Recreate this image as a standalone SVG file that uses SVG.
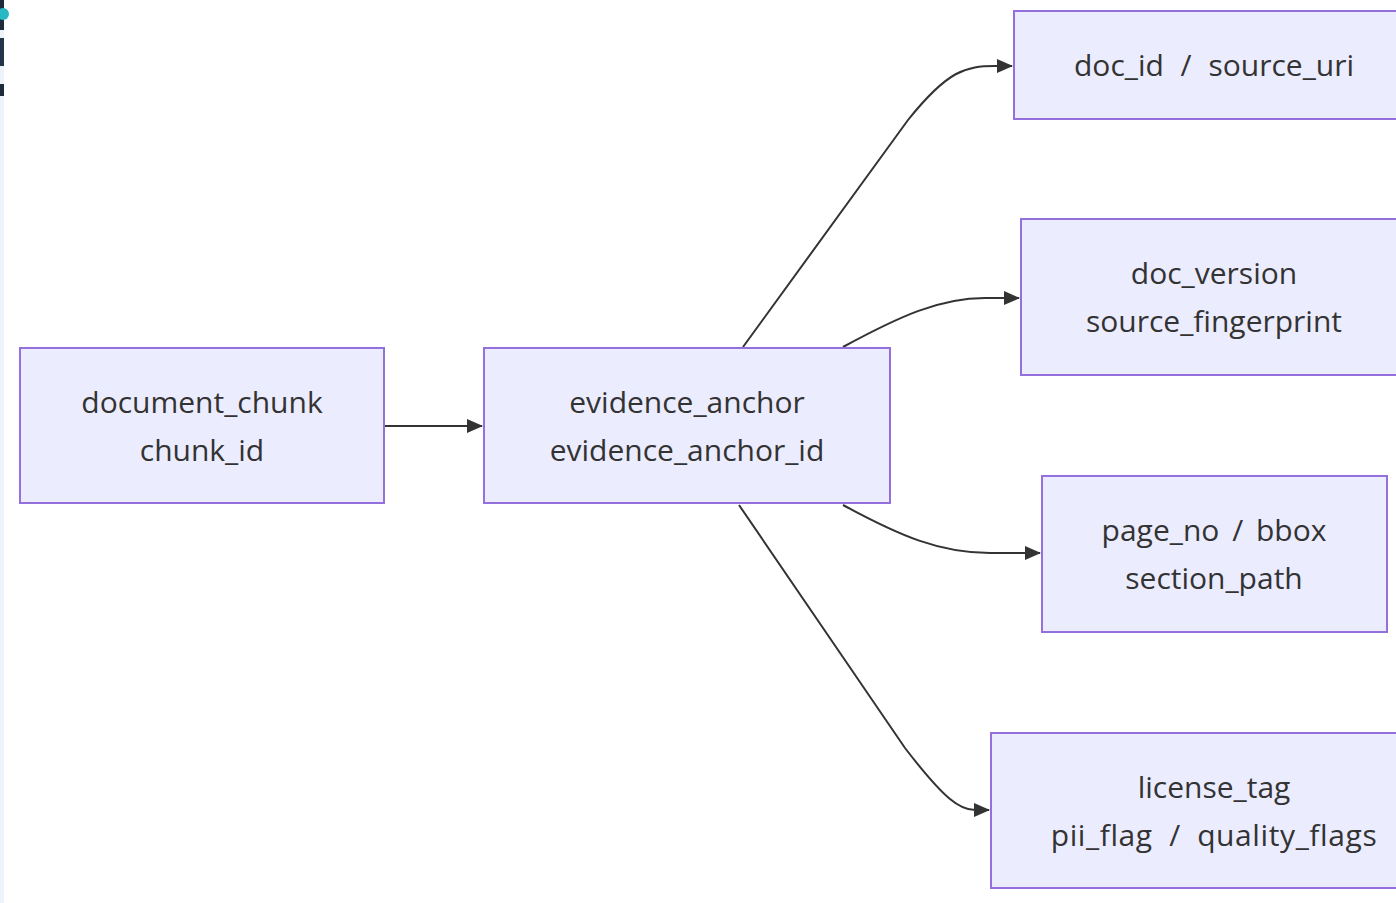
<svg xmlns="http://www.w3.org/2000/svg" width="1396" height="903" viewBox="0 0 1396 903">
  <defs>
    <style>
      .node rect { fill: #ECECFF; stroke: #9370DB; stroke-width: 2; }
      .node text { font-family: "Trebuchet MS", "Open Sans", "DejaVu Sans", sans-serif; font-size: 30px; fill: #333333; text-anchor: middle; dominant-baseline: central; }
      .edge { fill: none; stroke: #333333; stroke-width: 2; }
    </style>
    <marker id="arrowhead" viewBox="0 0 16 14" refX="15" refY="7" markerWidth="16" markerHeight="14" markerUnits="userSpaceOnUse" orient="auto">
      <path d="M0,0 L16,7 L0,14 Z" fill="#333333"/>
    </marker>
  </defs>

  <rect x="0" y="0" width="1396" height="903" fill="#ffffff"/>

  <!-- narrow strip along the left edge -->
  <g id="edge-strip">
    <rect x="0" y="0" width="4" height="903" fill="#eef3fb"/>
    <rect x="0" y="0" width="4" height="30" fill="#1d2b3a"/>
    <circle cx="3" cy="14" r="6" fill="#27b8c4"/>
    <rect x="0" y="38" width="4" height="28" fill="#24344a"/>
    <rect x="0" y="84" width="4" height="12" fill="#1d2b3a"/>
  </g>

  <g id="connectors">
    <path class="edge" d="M384,426 L482,426" marker-end="url(#arrowhead)"/>
    <path class="edge" d="M743,347 L908,120 C948,70 966,66 995,66 L1012,66" marker-end="url(#arrowhead)"/>
    <path class="edge" d="M843,347 C900,316 940,298 985,298 L1019,298" marker-end="url(#arrowhead)"/>
    <path class="edge" d="M843,505 C900,536 940,553 990,553 L1040,553" marker-end="url(#arrowhead)"/>
    <path class="edge" d="M739,505 L905,748 C945,800 960,810 975,810 L989,810" marker-end="url(#arrowhead)"/>
  </g>

  <g id="document_chunk" class="node">
    <rect x="20" y="348" width="364" height="155"/>
    <text x="202" y="401">document_chunk</text>
    <text x="202" y="449">chunk_id</text>
  </g>

  <g id="evidence_anchor" class="node">
    <rect x="484" y="348" width="406" height="155"/>
    <text x="687" y="401">evidence_anchor</text>
    <text x="687" y="449">evidence_anchor_id</text>
  </g>

  <g id="doc_id" class="node">
    <rect x="1014" y="11" width="400" height="108"/>
    <text x="1214" y="64" word-spacing="9">doc_id / source_uri</text>
  </g>

  <g id="doc_version" class="node">
    <rect x="1021" y="219" width="386" height="156"/>
    <text x="1214" y="272">doc_version</text>
    <text x="1214" y="320">source_fingerprint</text>
  </g>

  <g id="page_no" class="node">
    <rect x="1042" y="476" width="345" height="156"/>
    <text x="1214" y="529" word-spacing="5">page_no / bbox</text>
    <text x="1214" y="577">section_path</text>
  </g>

  <g id="license_tag" class="node">
    <rect x="991" y="733" width="446" height="155"/>
    <text x="1214" y="786">license_tag</text>
    <text x="1214" y="834" word-spacing="8" letter-spacing="0.6">pii_flag / quality_flags</text>
  </g>
</svg>
